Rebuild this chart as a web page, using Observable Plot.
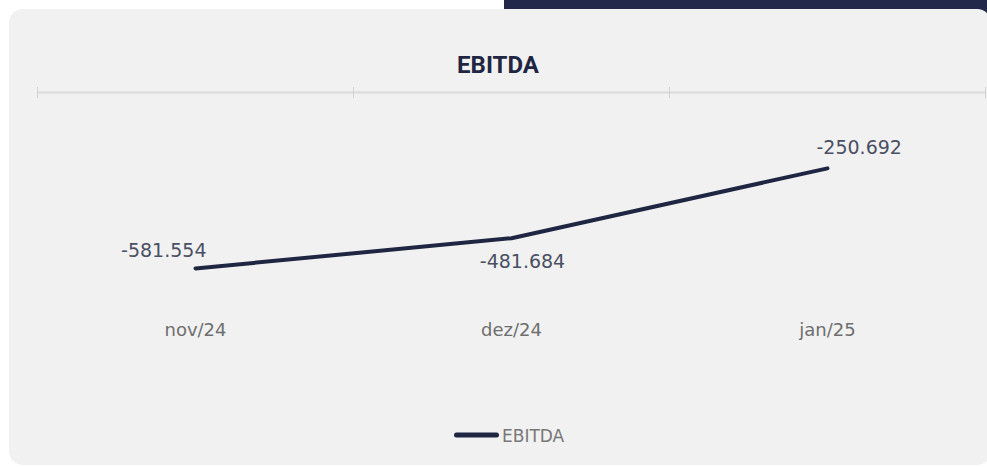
<!DOCTYPE html>
<html>
<head>
<meta charset="utf-8">
<script src="https://cdn.jsdelivr.net/npm/d3@7"></script>
<script src="https://cdn.jsdelivr.net/npm/@observablehq/plot@0.6"></script>
<style>
  html, body { margin: 0; padding: 0; background: #ffffff; }
  body { width: 987px; height: 467px; overflow: hidden; position: relative; font-family: "DejaVu Sans", sans-serif; }
  #bar { position: absolute; left: 504px; top: 0; width: 483px; height: 30px; background: #21284a; }
  #panel { position: absolute; left: 9px; top: 9px; width: 982px; height: 456px; background: #f1f1f1; border-radius: 14px; }
  #title { position: absolute; left: 9px; width: 978px; top: 53px; text-align: center; font-family: Roboto, sans-serif; font-weight: 700; font-size: 24px; line-height: 24px; color: #1f2642; }
  #chart { position: absolute; left: 0; top: 80px; }
  #legend { position: absolute; left: 440px; top: 420px; }
</style>
</head>
<body>
<div id="bar"></div>
<div id="panel"></div>
<div id="title">EBITDA</div>
<div id="chart"></div>
<svg id="legend" width="160" height="30">
  <line x1="16.5" x2="56.5" y1="15" y2="15" stroke="#1f2642" stroke-width="5" stroke-linecap="round"></line>
  <text x="62" y="22" font-family="DejaVu Sans, sans-serif" font-size="17" fill="#777777">EBITDA</text>
</svg>
<script>
// Data
const categories = ["nov/24", "dez/24", "jan/25"];
const ebitda = [-581554, -481684, -250692];
const seriesName = "EBITDA";

const data = categories.map((c, i) => ({i, category: c, value: ebitda[i]}));
const boundaries = d3.range(categories.length + 1).map(k => k - 0.5);

const ptBR = d3.formatLocale({decimal: ",", thousands: ".", grouping: [3], currency: ["R$", ""], minus: "-"});
const fmt = ptBR.format(",d");

// label placement per point (style)
const placement = [
  {textAnchor: "end", dx: 11, dy: -11},
  {textAnchor: "middle", dx: 11, dy: 30},
  {textAnchor: "start", dx: -11, dy: -14}
];

const labelMarks = data.map((d, k) => Plot.text([d], {
  x: "i", y: "value", text: r => fmt(r.value),
  lineAnchor: "bottom", textAnchor: placement[k].textAnchor,
  dx: placement[k].dx, dy: placement[k].dy,
  fontSize: 19, fill: "#4a4f63"
}));

const chart = Plot.plot({
  width: 987,
  height: 270,
  marginTop: 12,
  marginBottom: 16,
  marginLeft: 37,
  marginRight: 2,
  style: {background: "transparent", fontFamily: "DejaVu Sans, sans-serif", overflow: "visible"},
  x: {type: "linear", domain: [-0.5, categories.length - 0.5], axis: null},
  y: {domain: [-800000, 0], axis: null},
  marks: [
    Plot.ruleY([0], {stroke: "#dadada", strokeWidth: 2}),
    Plot.ruleX(boundaries, {x: d => d, y1: 0, y2: 0, insetTop: -5, insetBottom: -6, stroke: "#d2d2d2", strokeWidth: 1}),
    Plot.line(data, {x: "i", y: "value", stroke: "#1f2642", strokeWidth: 4, strokeLinecap: "round", strokeLinejoin: "round"}),
    ...labelMarks,
    Plot.text(categories, {x: (d, i) => i, text: d => d, frameAnchor: "bottom", lineAnchor: "bottom", dy: 1, fontSize: 18, fill: "#6e6e6e"})
  ]
});
document.getElementById("chart").appendChild(chart);
</script>
</body>
</html>
